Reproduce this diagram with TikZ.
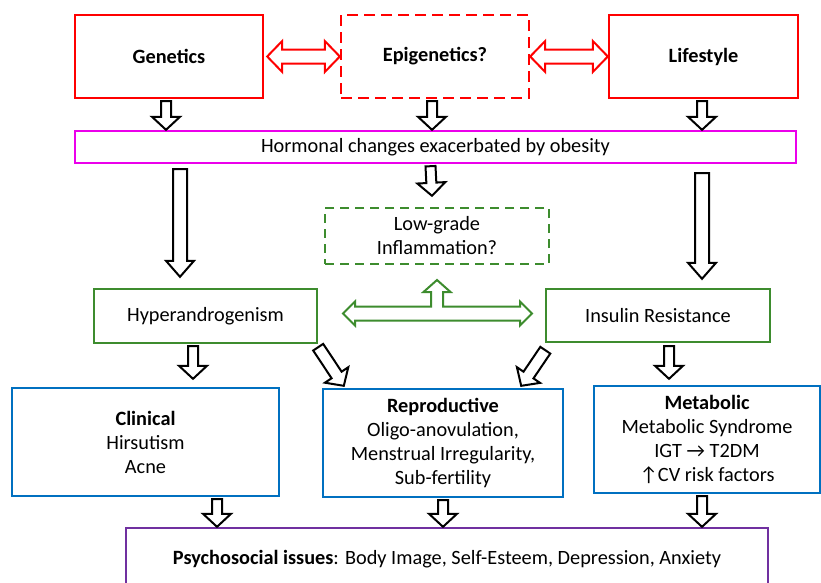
\documentclass[tikz,border=0pt]{standalone}
\usepackage{fontspec}
\setmainfont{Carlito}
\usepackage{tikz}
\usetikzlibrary{calc,positioning}

\definecolor{boxred}{RGB}{255,0,0}
\definecolor{boxpink}{RGB}{235,0,235}
\definecolor{boxgreen}{RGB}{61,140,46}
\definecolor{boxblue}{RGB}{0,112,192}
\definecolor{boxpurple}{RGB}{112,48,160}

\tikzset{
  box/.style={draw, line width=2.4pt, rectangle, align=center, inner sep=0pt,
    font=\fontsize{20.3}{24}\selectfont},
  title/.style={font=\fontsize{20.3}{24}\selectfont\bfseries},
  fatS/.store in=\fatS, fatW/.store in=\fatW, fatL/.store in=\fatL,
  fatS=5pt, fatW=14pt, fatL=13pt,
  % hollow block arrow, start -> target
  fat/.style={draw=black, line width=2pt, fill=white, to path={
    ($(\tikztotarget)!\fatL!(\tikztostart)$) coordinate (fatH)
    ($(\tikztostart)!\fatS!90:(\tikztotarget)$)
    -- ($(fatH)!\fatS!90:(\tikztotarget)$)
    -- ($(fatH)!\fatW!90:(\tikztotarget)$)
    -- (\tikztotarget)
    -- ($(fatH)!\fatW!-90:(\tikztotarget)$)
    -- ($(fatH)!\fatS!-90:(\tikztotarget)$)
    -- ($(\tikztostart)!\fatS!-90:(\tikztotarget)$) -- cycle}},
  % hollow block arrow with two heads
  twin/.style={line width=2pt, fill=white, to path={
    ($(\tikztostart)!\fatL!(\tikztotarget)$) coordinate (fatA)
    ($(\tikztotarget)!\fatL!(\tikztostart)$) coordinate (fatB)
    (\tikztostart)
    -- ($(fatA)!\fatW!90:(\tikztotarget)$)
    -- ($(fatA)!\fatS!90:(\tikztotarget)$)
    -- ($(fatB)!\fatS!90:(\tikztotarget)$)
    -- ($(fatB)!\fatW!90:(\tikztotarget)$)
    -- (\tikztotarget)
    -- ($(fatB)!\fatW!-90:(\tikztotarget)$)
    -- ($(fatB)!\fatS!-90:(\tikztotarget)$)
    -- ($(fatA)!\fatS!-90:(\tikztotarget)$)
    -- ($(fatA)!\fatW!-90:(\tikztotarget)$) -- cycle}},
}

\begin{document}
\begin{tikzpicture}[%
x=1pt,
y=-1pt,
line join=miter
]
\fill[white] (0,0) rectangle (821,582);
\useasboundingbox (0,0) rectangle (821,582);
\clip (0,0) rectangle (821,582);

% causes
\node[box, title, draw=boxred, minimum width=188pt, minimum height=83pt] (gen) at (169,56.5) {Genetics};
\node[box, title, draw=boxred, dash pattern=on 11pt off 6pt, minimum width=188pt, minimum height=83pt] (epi) at (435,56.5) {Epigenetics?};
\node[box, title, draw=boxred, minimum width=189pt, minimum height=83pt] (life) at (703.5,56.5) {Lifestyle};
\node[box, draw=boxpink, minimum width=721pt, minimum height=32pt] (horm) at (435.5,147) {Hormonal changes exacerbated by obesity};

% mechanisms
\node[box, draw=boxgreen, dash pattern=on 9pt off 6pt, minimum width=224pt, minimum height=56pt] (low) at (437,236) {Low-grade\\Inflammation?};
\node[box, draw=boxgreen, minimum width=223pt, minimum height=54pt] (hyp) at (205.5,316) {Hyperandrogenism};
\node[box, draw=boxgreen, minimum width=224pt, minimum height=53pt] (ins) at (658,315.5) {Insulin Resistance};

% outcomes
\node[box, draw=boxblue, minimum width=267pt, minimum height=108pt] (clin) at (145.5,442) {\textbf{Clinical}\\Hirsutism\\Acne};
\node[box, draw=boxblue, minimum width=240pt, minimum height=108pt] (repro) at (443,443) {\textbf{Reproductive}\\Oligo-anovulation,\\Menstrual Irregularity,\\Sub-fertility};
\node[box, draw=boxblue, minimum width=226pt, minimum height=107pt] (meta) at (707,439.5) {\textbf{Metabolic}\\Metabolic Syndrome\\IGT → T2DM\\↑CV risk factors};
\node[box, draw=boxpurple, minimum width=642pt, minimum height=62pt] (psy) at (447,559) {\textbf{Psychosocial issues}: Body Image, Self-Esteem, Depression, Anxiety};

% red links
\path[twin, draw=boxred, fatS=7pt, fatW=15.5pt, fatL=15pt] ([xshift=3pt]gen.east) to (epi.west);
\path[twin, draw=boxred, fatS=7pt, fatW=15.5pt, fatL=15pt] (epi.east) to (life.west);

% into hormonal changes
\path[fat] ([xshift=-3pt,yshift=-2pt]gen.south) to ([xshift=-3pt]gen.south |- horm.north);
\path[fat] ([xshift=-3pt,yshift=-2pt]epi.south) to ([xshift=-3pt]epi.south |- horm.north);
\path[fat] ([xshift=-1.5pt,yshift=-2pt]life.south) to ([xshift=-1.5pt]life.south |- horm.north);

% out of hormonal changes
\path[fat] ([xshift=-5pt,yshift=-2pt]horm.south) to ([xshift=-5pt,yshift=11pt]low.north);
\path[fat, fatS=7pt, fatL=16pt] ([xshift=-25.5pt,yshift=-5pt]hyp.north |- horm.south) to ([xshift=-25.5pt,yshift=11pt]hyp.north);
\path[fat, fatS=7pt, fatL=16pt] ([xshift=44pt,yshift=-9pt]ins.north |- horm.south) to ([xshift=44pt,yshift=9pt]ins.north);

% green three-way arrow
\coordinate (tri) at ([yshift=2.5pt]low.south |- hyp.east);
\begin{scope}[shift={(tri)}]
\draw[boxgreen, line width=2pt, fill=white] (-94,0) -- (-82,-12) -- (-82,-7) -- (-6,-7) -- (-6,-21.5)
  -- (-13.5,-21.5) -- (0,-33.5) -- (13.5,-21.5) -- (6,-21.5) -- (6,-7) -- (83,-7) -- (83,-12)
  -- (95,0) -- (83,12) -- (83,7) -- (-82,7) -- (-82,12) -- cycle;
\end{scope}

% into outcomes
\path[fat] ([xshift=-12.5pt,yshift=-2pt]hyp.south) to ([xshift=-12.5pt,yshift=8pt]hyp.south |- clin.north);
\path[fat, fatS=6pt] ([yshift=-3pt]hyp.south east) to ([xshift=22pt,yshift=2pt]repro.north west);
\path[fat, fatS=6pt] ([xshift=0.5pt,yshift=-7pt]ins.south west) to ([xshift=-43pt,yshift=2pt]repro.north east);
\path[fat] ([xshift=11pt,yshift=-3pt]ins.south) to ([xshift=11pt,yshift=6pt]ins.south |- meta.north);

% into psychosocial issues
\path[fat] ([xshift=71.5pt,yshift=-2pt]clin.south) to ([xshift=71.5pt]clin.south |- psy.north);
\path[fat] ([yshift=-2pt]repro.south) to (repro.south |- psy.north);
\path[fat] ([xshift=-5pt,yshift=-2pt]meta.south) to ([xshift=-5pt]meta.south |- psy.north);

\end{tikzpicture}
\end{document}
